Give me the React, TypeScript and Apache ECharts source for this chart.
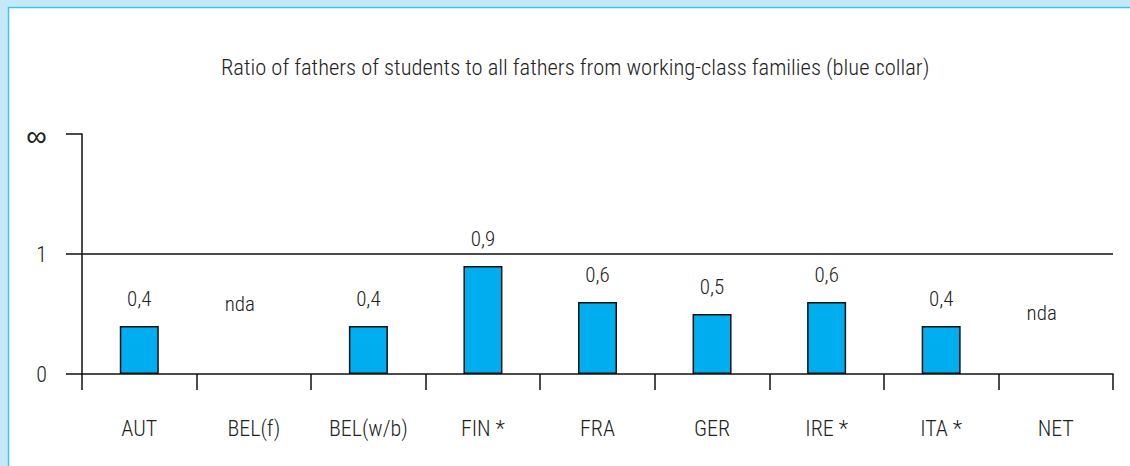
import React, { useEffect, useRef } from "react";
import * as echarts from "echarts";

const titleText = "Ratio of fathers of students to all fathers from working-class families (blue collar)";
const categories = ["AUT", "BEL(f)", "BEL(w/b)", "FIN *", "FRA", "GER", "IRE *", "ITA *", "NET"];
const ratios: (number | string)[] = [0.4, "-", 0.4, 0.9, 0.6, 0.5, 0.6, 0.4, "-"];
const ndaLevels: (number | string)[] = ["-", 0.5, "-", "-", "-", "-", "-", "-", 0.42];
const yTickLabels: Record<number, string> = { 0: "0", 1: "1", 2: "{inf|∞}" };

const FONT = "'Roboto Condensed', Roboto, sans-serif";
const TXT = "#222";

export default function App() {
  const ref = useRef<HTMLDivElement>(null);
  useEffect(() => {
    const chart = echarts.init(ref.current!, undefined, { renderer: "svg" });
    chart.setOption({
      animation: false,
      backgroundColor: "#c6e9f9",
      textStyle: { fontFamily: FONT, color: TXT },
      graphic: [
        {
          type: "rect",
          z: -10,
          shape: { x: 8.5, y: 7.5, width: 1140, height: 480 },
          style: { fill: "#ffffff", stroke: "#3ec3f1", lineWidth: 1.5 },
        },
      ],
      title: {
        text: titleText,
        left: 216,
        top: 50,
        textStyle: { fontFamily: FONT, fontSize: 22.5, fontWeight: 300, color: TXT },
      },
      grid: { left: 82, right: 17, top: 134, bottom: 92 },
      xAxis: {
        type: "category",
        data: categories,
        boundaryGap: true,
        axisLine: { lineStyle: { color: "#111", width: 1.5 } },
        axisTick: { show: true, length: 16, lineStyle: { color: "#111", width: 1.5 } },
        axisLabel: { margin: 43, fontSize: 22, fontWeight: 300, color: TXT, fontFamily: FONT, interval: 0 },
        splitLine: { show: false },
      },
      yAxis: {
        type: "value",
        min: 0,
        max: 2,
        interval: 1,
        axisLine: { show: true, lineStyle: { color: "#111", width: 1.5 } },
        axisTick: { show: true, length: 16, lineStyle: { color: "#111", width: 1.5 } },
        axisLabel: {
          margin: 35,
          fontSize: 22,
          fontWeight: 300,
          color: TXT,
          fontFamily: FONT,
          formatter: (v: number) => yTickLabels[v] ?? "",
          rich: {
            inf: { fontFamily: "'Noto Sans', sans-serif", fontSize: 29, fontWeight: 300, color: TXT },
          },
        },
        splitLine: { show: false },
      },
      series: [
        {
          type: "bar",
          data: ratios,
          barWidth: 39,
          barGap: "-100%",
          itemStyle: { color: "#00aeef", borderColor: "#111", borderWidth: 1.5 },
          label: {
            show: true,
            position: "top",
            distance: 17,
            fontSize: 21,
            fontWeight: 300,
            color: TXT,
            fontFamily: FONT,
            formatter: (p: any) => String(p.value).replace(".", ","),
          },
          markLine: {
            silent: true,
            symbol: ["none", "none"],
            label: { show: false },
            lineStyle: { color: "#111", width: 1.5, type: "solid" },
            data: [{ yAxis: 1 }],
          },
        },
        {
          type: "bar",
          data: ndaLevels,
          barWidth: 39,
          barGap: "-100%",
          z: 1,
          itemStyle: { color: "rgba(0,0,0,0)", borderWidth: 0 },
          label: {
            show: true,
            position: "top",
            distance: 0,
            fontSize: 21,
            fontWeight: 300,
            color: TXT,
            fontFamily: FONT,
            offset: [-14, 0],
            formatter: () => "nda",
          },
        },
      ],
    });
    return () => chart.dispose();
  }, []);
  return (
    <div
      ref={ref}
      style={{ position: "fixed", left: 0, top: 0, width: 1130, height: 466 }}
    />
  );
}
